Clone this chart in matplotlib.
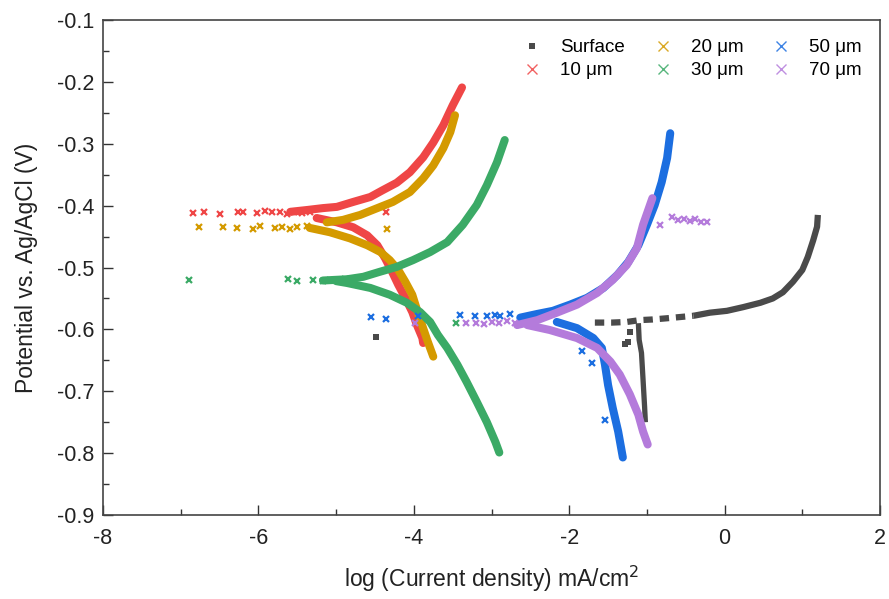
import matplotlib
matplotlib.use("Agg")
import matplotlib.pyplot as plt
from matplotlib.ticker import MultipleLocator
from matplotlib.lines import Line2D

plt.rcParams['font.family'] = ['Liberation Sans', 'DejaVu Sans']

# ---------------- data (log i, E) ----------------
# Surface
surf_dash_x = [-1.67, -1.45, -1.26, -1.09, -0.93, -0.74, -0.57, -0.40]
surf_dash_y = [-0.589, -0.589, -0.588, -0.585, -0.584, -0.582, -0.580, -0.578]
surf_an_x = [-0.40, -0.19, 0.03, 0.24, 0.46, 0.62, 0.75, 0.88, 1.00, 1.07, 1.14, 1.19, 1.20]
surf_an_y = [-0.578, -0.573, -0.570, -0.564, -0.557, -0.550, -0.540, -0.523, -0.504, -0.483, -0.456, -0.434, -0.415]
surf_ca_x = [-1.11, -1.10, -1.07, -1.05, -1.03, -1.02]
surf_ca_y = [-0.590, -0.617, -0.638, -0.681, -0.725, -0.750]
surf_sc_x = [-4.49, -1.28, -1.24, -1.22]
surf_sc_y = [-0.612, -0.623, -0.620, -0.605]

# 10 um
r_an_x = [-5.59, -5.37, -5.17, -4.99, -4.78, -4.56, -4.40, -4.22, -4.05, -3.88, -3.75, -3.62, -3.50, -3.38]
r_an_y = [-0.410, -0.407, -0.404, -0.402, -0.394, -0.386, -0.375, -0.363, -0.346, -0.322, -0.298, -0.270, -0.238, -0.209]
r_ca_x = [-5.25, -4.99, -4.78, -4.60, -4.47, -4.37, -4.28, -4.20, -4.11, -4.02, -3.96, -3.89, -3.88]
r_ca_y = [-0.420, -0.427, -0.435, -0.448, -0.464, -0.485, -0.507, -0.528, -0.549, -0.572, -0.593, -0.614, -0.622]
r_sc_x = [-6.84, -6.70, -6.49, -6.26, -6.20, -6.02, -5.92, -5.82, -5.72, -5.63, -5.54, -5.44, -5.34, -4.36]
r_sc_y = [-0.412, -0.411, -0.413, -0.411, -0.410, -0.412, -0.409, -0.411, -0.410, -0.413, -0.410, -0.412, -0.411, -0.410]

# 20 um
g_an_x = [-5.12, -4.91, -4.69, -4.47, -4.27, -4.05, -3.88, -3.75, -3.62, -3.53, -3.47]
g_an_y = [-0.427, -0.423, -0.415, -0.404, -0.394, -0.378, -0.356, -0.335, -0.307, -0.281, -0.254]
g_ca_x = [-5.34, -5.08, -4.82, -4.60, -4.43, -4.31, -4.20, -4.11, -4.02, -3.95, -3.88, -3.82, -3.75]
g_ca_y = [-0.436, -0.443, -0.453, -0.464, -0.475, -0.488, -0.504, -0.523, -0.544, -0.572, -0.598, -0.620, -0.644]
g_sc_x = [-6.76, -6.46, -6.28, -6.07, -5.98, -5.79, -5.70, -5.59, -5.50, -5.37, -4.34]
g_sc_y = [-0.435, -0.434, -0.436, -0.437, -0.433, -0.436, -0.434, -0.438, -0.434, -0.433, -0.437]

# 30 um
gr_an_x = [-5.17, -4.86, -4.65, -4.44, -4.22, -4.01, -3.79, -3.57, -3.37, -3.19, -3.06, -2.93, -2.83]
gr_an_y = [-0.521, -0.519, -0.515, -0.507, -0.499, -0.488, -0.475, -0.459, -0.431, -0.399, -0.367, -0.330, -0.294]
gr_ca_x = [-5.0, -4.86, -4.56, -4.31, -4.09, -3.92, -3.79, -3.69, -3.57, -3.44, -3.32, -3.19, -3.06, -2.95, -2.90]
gr_ca_y = [-0.522, -0.525, -0.533, -0.544, -0.557, -0.572, -0.588, -0.609, -0.630, -0.657, -0.685, -0.717, -0.750, -0.782, -0.799]
gr_sc_x = [-6.89, -5.62, -5.50, -5.30, -5.17, -5.08, -4.98, -4.88, -4.78, -3.46]
gr_sc_y = [-0.520, -0.519, -0.521, -0.520, -0.522, -0.520, -0.522, -0.519, -0.518, -0.590]

# 50 um
b_an_x = [-2.63, -2.41, -2.21, -1.99, -1.77, -1.56, -1.38, -1.24, -1.11, -1.00, -0.90, -0.81, -0.74, -0.70]
b_an_y = [-0.581, -0.575, -0.570, -0.560, -0.549, -0.533, -0.512, -0.491, -0.464, -0.431, -0.399, -0.362, -0.323, -0.283]
b_ca_x = [-2.16, -1.90, -1.69, -1.58, -1.54, -1.50, -1.44, -1.37, -1.31]
b_ca_y = [-0.588, -0.598, -0.614, -0.630, -0.657, -0.690, -0.727, -0.765, -0.807]
b_sc_x = [-4.55, -4.36, -3.95, -3.41, -3.21, -3.06, -2.95, -2.89, -2.76, -1.84, -1.71, -1.54]
b_sc_y = [-0.580, -0.583, -0.578, -0.577, -0.578, -0.578, -0.576, -0.578, -0.575, -0.635, -0.654, -0.746]

# 70 um
p_an_x = [-2.67, -2.41, -2.16, -1.90, -1.64, -1.44, -1.26, -1.13, -1.05, -0.93]
p_an_y = [-0.593, -0.585, -0.573, -0.560, -0.541, -0.520, -0.496, -0.469, -0.431, -0.388]
p_ca_x = [-2.54, -2.25, -1.90, -1.64, -1.47, -1.35, -1.22, -1.11, -1.05, -0.99]
p_ca_y = [-0.593, -0.601, -0.614, -0.630, -0.652, -0.673, -0.705, -0.738, -0.765, -0.786]
p_sc_x = [-3.98, -3.33, -3.20, -3.10, -3.00, -2.90, -2.80, -2.70, -0.83, -0.68, -0.60, -0.52, -0.45, -0.38, -0.30, -0.23]
p_sc_y = [-0.590, -0.590, -0.589, -0.591, -0.588, -0.590, -0.587, -0.589, -0.431, -0.418, -0.424, -0.421, -0.425, -0.422, -0.427, -0.426]

labels = ['Surface', '10 μm', '20 μm', '30 μm', '50 μm', '70 μm']
colors = ['#4a4a4a', '#ef4646', '#d49a00', '#3baa66', '#1c6ee0', '#b47bdb']

series = [
    (r_an_x, r_an_y, r_ca_x, r_ca_y, r_sc_x, r_sc_y),
    (g_an_x, g_an_y, g_ca_x, g_ca_y, g_sc_x, g_sc_y),
    (gr_an_x, gr_an_y, gr_ca_x, gr_ca_y, gr_sc_x, gr_sc_y),
    (b_an_x, b_an_y, b_ca_x, b_ca_y, b_sc_x, b_sc_y),
    (p_an_x, p_an_y, p_ca_x, p_ca_y, p_sc_x, p_sc_y),
]

fig = plt.figure(figsize=(8.89, 5.99), dpi=100)
ax = fig.add_axes([0.1159, 0.1402, 0.8740, 0.8264])

# surface
ax.plot(surf_dash_x, surf_dash_y, color=colors[0], lw=4.5, linestyle=(0, (1.5, 1.1)), dash_capstyle='butt')
ax.plot(surf_an_x, surf_an_y, color=colors[0], lw=4.5, solid_capstyle='butt', solid_joinstyle='round')
ax.plot(surf_ca_x, surf_ca_y, color=colors[0], lw=3.8, solid_capstyle='butt')
ax.plot(surf_sc_x, surf_sc_y, color=colors[0], lw=0, marker='s', ms=5, mew=0)

for (ax_x, ax_y, cx, cy, sx, sy), c in zip(series, colors[1:]):
    ax.plot(ax_x, ax_y, color=c, lw=5.8, solid_capstyle='round', solid_joinstyle='round')
    ax.plot(cx, cy, color=c, lw=5.8, solid_capstyle='round', solid_joinstyle='round')
    ax.plot(sx, sy, color=c, lw=0, marker='x', ms=4.5, mew=1.6)

ax.set_xlim(-8, 2)
ax.set_ylim(-0.9, -0.1)
ax.xaxis.set_minor_locator(MultipleLocator(1))
ax.yaxis.set_minor_locator(MultipleLocator(0.05))
ax.set_yticks([-0.9, -0.8, -0.7, -0.6, -0.5, -0.4, -0.3, -0.2, -0.1])
ax.set_yticklabels(['-0.9', '-0.8', '-0.7', '-0.6', '-0.5', '-0.4', '-0.3', '-0.2', '-0.1'])
ax.set_xticks([-8, -6, -4, -2, 0, 2])
ax.set_xticklabels(['-8', '-6', '-4', '-2', '0', '2'])
ax.tick_params(which='both', direction='in', top=False, right=False, labelsize=15.5, colors='#333333', labelcolor='#222222')
ax.tick_params(which='major', length=7, width=1)
ax.tick_params(which='minor', length=4, width=1)
ax.tick_params(axis='x', pad=9)
ax.tick_params(axis='y', pad=6)
for s in ax.spines.values():
    s.set_color('#444444')
    s.set_linewidth(1.2)

ax.set_xlabel('log (Current density) mA/cm$^2$', fontsize=16.5, color='#222222', labelpad=11)
ax.set_ylabel('Potential vs. Ag/AgCl (V)', fontsize=16.5, color='#222222', labelpad=14)

handles = [Line2D([], [], color=colors[0], marker='s', lw=0, ms=5, mew=0)]
for c in colors[1:]:
    handles.append(Line2D([], [], color=c, marker='x', lw=0, ms=7, mew=1.0, alpha=0.85))
ax.legend(handles, labels, ncol=3, loc='upper right', frameon=False, fontsize=13.5,
          bbox_to_anchor=(0.998, 0.995), columnspacing=1.4, handletextpad=0.9,
          labelspacing=0.3, handlelength=1.2)

fig.savefig('out.png', dpi=100)
